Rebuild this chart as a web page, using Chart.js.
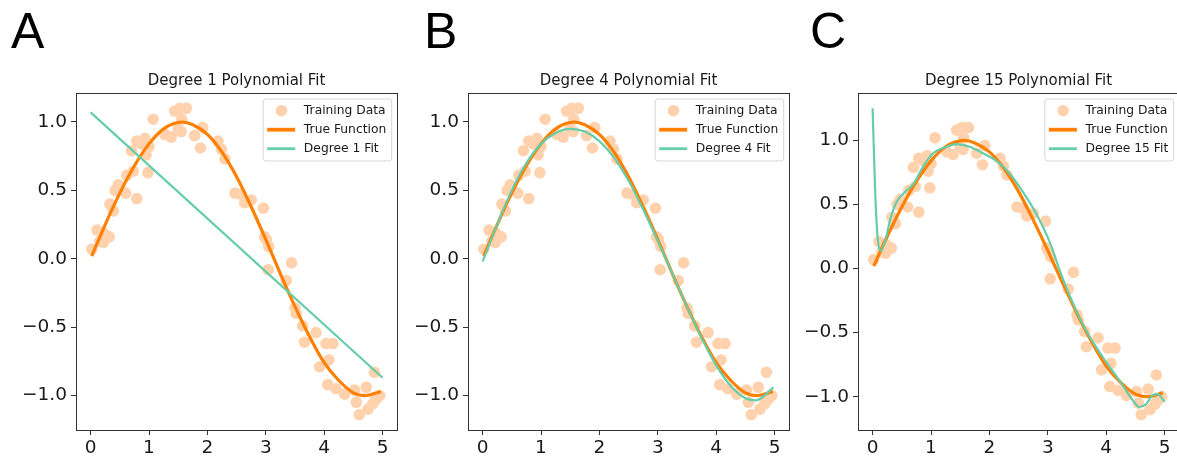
<!DOCTYPE html>
<html>
<head>
<meta charset="utf-8">
<script src="https://cdn.jsdelivr.net/npm/chart.js@4/dist/chart.umd.min.js"></script>
<style>
  html, body { margin: 0; padding: 0; background: #fff; overflow: hidden; }
  body { width: 1177px; height: 459px; position: relative; }
  .panel { position: absolute; top: 0; }
  .tag { position: absolute; top: 6px; font: 50px "Liberation Sans", Arial, sans-serif; line-height: 50px; color: #000; }
</style>
</head>
<body>
<div class="tag" style="left:11px">A</div>
<div class="tag" style="left:424px">B</div>
<div class="tag" style="left:810px">C</div>
<div class="panel" style="left:0px"><canvas id="fitA" width="403" height="459"></canvas></div>
<div class="panel" style="left:392px"><canvas id="fitB" width="403" height="459"></canvas></div>
<div class="panel" style="left:782px"><canvas id="fitC" width="403" height="459"></canvas></div>
<script>
// noisy samples of the target
const trainX = [0.02, 0.11, 0.16, 0.22, 0.22, 0.27, 0.32, 0.33, 0.39, 0.42, 0.47, 0.60, 0.62, 0.73, 0.70,
  0.79, 0.79, 0.87, 0.93, 0.95, 0.98, 1.00, 1.07, 1.27, 1.38, 1.44, 1.50, 1.53, 1.56, 1.55, 1.64, 1.78,
  1.88, 1.92, 2.18, 2.24, 2.30, 2.47, 2.58, 2.64, 2.75, 2.96, 2.98, 3.01, 3.05, 3.04, 3.35, 3.44, 3.50,
  3.52, 3.63, 3.66, 3.86, 3.92, 4.03, 4.15, 4.08, 4.06, 4.20, 4.35, 4.52, 4.55, 4.60, 4.72, 4.75, 4.83,
  4.86, 4.88, 4.95];
const trainY = [0.07, 0.21, 0.13, 0.19, 0.12, 0.17, 0.16, 0.40, 0.35, 0.50, 0.54, 0.48, 0.61, 0.64, 0.79,
  0.44, 0.86, 0.84, 0.88, 0.76, 0.63, 0.82, 1.02, 0.91, 0.89, 1.08, 0.95, 1.10, 1.02, 0.93, 1.10, 0.90,
  0.81, 0.96, 0.86, 0.80, 0.73, 0.48, 0.47, 0.41, 0.43, 0.37, 0.16, 0.14, 0.09, -0.08, -0.16, -0.03, -0.36,
  -0.40, -0.49, -0.61, -0.54, -0.79, -0.62, -0.62, -0.74, -0.92, -0.95, -0.99, -0.96, -1.05, -1.14, -0.94, -1.10, -1.06,
  -0.83, -1.03, -1.00];

// true function
const curveX = [0.02, 0.25, 0.5, 0.75, 1.0, 1.25, 1.57, 1.75, 2.0, 2.25, 2.5, 2.75, 3.0, 3.25, 3.5, 3.75,
  4.0, 4.25, 4.5, 4.71, 4.97];
const trueY = [0.02, 0.25, 0.48, 0.68, 0.84, 0.95, 1.00, 0.98, 0.91, 0.78, 0.60, 0.38, 0.14, -0.11, -0.35,
  -0.57, -0.76, -0.89, -0.98, -1.00, -0.97];

// fitted polynomials
const deg1X = [0.0, 5.0];
const deg1Y = [1.07, -0.87];
const deg4X = [0.0, 0.25, 0.5, 0.75, 1.0, 1.25, 1.5, 1.75, 2.0, 2.25, 2.5, 2.75, 3.0, 3.25, 3.5, 3.75,
  4.0, 4.25, 4.5, 4.68, 4.98];
const deg4Y = [-0.02, 0.25, 0.50, 0.70, 0.84, 0.92, 0.95, 0.93, 0.86, 0.74, 0.57, 0.36, 0.13, -0.11, -0.35,
  -0.58, -0.78, -0.93, -1.02, -1.035, -0.94];
const deg15X = [0.0, 0.045, 0.085, 0.14, 0.22, 0.30, 0.41, 0.56, 0.70, 0.87, 1.04, 1.27, 1.44, 1.66, 1.89,
  2.12, 2.35, 2.57, 2.80, 3.03, 3.20, 3.43, 3.65, 3.94, 4.22, 4.51, 4.56, 4.68, 4.79, 4.88, 5.0];
const deg15Y = [1.25, 0.59, 0.25, 0.14, 0.22, 0.38, 0.52, 0.60, 0.66, 0.80, 0.90, 0.95, 0.97, 0.95, 0.90,
  0.84, 0.74, 0.60, 0.43, 0.21, -0.01, -0.27, -0.48, -0.69, -0.87, -1.06, -1.08, -1.06, -0.99, -0.98, -1.04];

const xTicks = [0, 1, 2, 3, 4, 5];
const yTicks = [-1.0, -0.5, 0.0, 0.5, 1.0];

const panels = [
  { id: 'fitA', title: 'Degree 1 Polynomial Fit', fit: 'Degree 1 Fit', fx: deg1X, fy: deg1Y },
  { id: 'fitB', title: 'Degree 4 Polynomial Fit', fit: 'Degree 4 Fit', fx: deg4X, fy: deg4Y },
  { id: 'fitC', title: 'Degree 15 Polynomial Fit', fit: 'Degree 15 Fit', fx: deg15X, fy: deg15Y }
];

const INK = '#1a1a1a';
const FONT = '"DejaVu Sans", sans-serif';

function pts(xs, ys) {
  return xs.map((x, i) => ({ x: x, y: ys[i] }));
}

// axes box, title above it, legend in the upper right
const frame = {
  id: 'frame',
  afterDatasetsDraw(chart, args, opts) {
    const ctx = chart.ctx;
    const a = chart.chartArea;
    ctx.save();
    ctx.strokeStyle = '#333';
    ctx.lineWidth = 1;
    ctx.strokeRect(Math.round(a.left) + 0.5, Math.round(a.top) + 0.5,
      Math.round(a.right - a.left), Math.round(a.bottom - a.top));

    ctx.fillStyle = INK;
    ctx.font = '15px ' + FONT;
    ctx.textAlign = 'center';
    ctx.textBaseline = 'middle';
    ctx.fillText(opts.title, (a.left + a.right) / 2, a.top - 12.3);

    ctx.font = '12.3px ' + FONT;
    const items = chart.data.datasets;
    let tw = 0;
    items.forEach(d => { tw = Math.max(tw, ctx.measureText(d.label).width); });
    const bw = 40.7 + tw + 5.5;
    const bh = 62;
    const bx = a.right - 5.5 - bw;
    const by = a.top + 6;
    ctx.beginPath();
    ctx.roundRect(bx, by, bw, bh, 3);
    ctx.fillStyle = 'rgba(255,255,255,0.85)';
    ctx.fill();
    ctx.strokeStyle = '#d6d6d6';
    ctx.stroke();

    items.forEach((d, i) => {
      const cy = by + 11.7 + i * 19;
      if (d.showLine) {
        ctx.beginPath();
        ctx.moveTo(bx + 4, cy);
        ctx.lineTo(bx + 32, cy);
        ctx.strokeStyle = d.borderColor;
        ctx.lineWidth = d.borderWidth + 0.6;
        ctx.stroke();
      } else {
        ctx.beginPath();
        ctx.arc(bx + 18.3, cy, d.pointRadius, 0, Math.PI * 2);
        ctx.fillStyle = d.backgroundColor;
        ctx.fill();
      }
      ctx.fillStyle = INK;
      ctx.textAlign = 'left';
      ctx.fillText(d.label, bx + 40.7, cy);
    });
    ctx.restore();
  }
};

panels.forEach(p => {
  const ys = trainY.concat(trueY, p.fy);
  const lo = Math.min(...ys), hi = Math.max(...ys);
  const pad = (hi - lo) * 0.05;

  new Chart(document.getElementById(p.id), {
    type: 'scatter',
    data: {
      datasets: [
        {
          label: 'Training Data',
          data: pts(trainX, trainY),
          backgroundColor: '#ffd2ad',
          borderWidth: 0,
          pointRadius: 5.8,
          showLine: false,
          order: 3
        },
        {
          label: 'True Function',
          data: pts(curveX, trueY),
          borderColor: '#ff8000',
          borderWidth: 3.2,
          pointRadius: 0,
          showLine: true,
          cubicInterpolationMode: 'monotone',
          order: 2
        },
        {
          label: p.fit,
          data: pts(p.fx, p.fy),
          borderColor: '#66cdaa',
          borderWidth: 2.2,
          pointRadius: 0,
          showLine: true,
          cubicInterpolationMode: 'monotone',
          order: 1
        }
      ]
    },
    options: {
      responsive: false,
      animation: false,
      layout: { padding: { top: 93, right: 5, bottom: 0, left: 0 } },
      plugins: {
        legend: { display: false },
        tooltip: { enabled: false },
        frame: { title: p.title }
      },
      scales: {
        x: {
          type: 'linear',
          min: -0.25,
          max: 5.25,
          afterBuildTicks: s => { s.ticks = xTicks.map(v => ({ value: v })); },
          afterFit: s => { s.height = 29; },
          grid: { drawOnChartArea: false, tickLength: 5, color: '#333' },
          border: { display: false },
          ticks: {
            font: { family: FONT, size: 18.5 },
            color: INK,
            padding: 2,
            maxRotation: 0,
            autoSkip: false,
            callback: v => String(v)
          }
        },
        y: {
          type: 'linear',
          min: lo - pad,
          max: hi + pad,
          afterBuildTicks: s => { s.ticks = yTicks.map(v => ({ value: v })); },
          afterFit: s => { s.width = 76; },
          grid: { drawOnChartArea: false, tickLength: 5, color: '#333' },
          border: { display: false },
          ticks: {
            font: { family: FONT, size: 18.5 },
            color: INK,
            padding: 4,
            autoSkip: false,
            callback: v => v.toFixed(1).replace('-', '\u2212')
          }
        }
      }
    },
    plugins: [frame]
  });
});
</script>
</body>
</html>
